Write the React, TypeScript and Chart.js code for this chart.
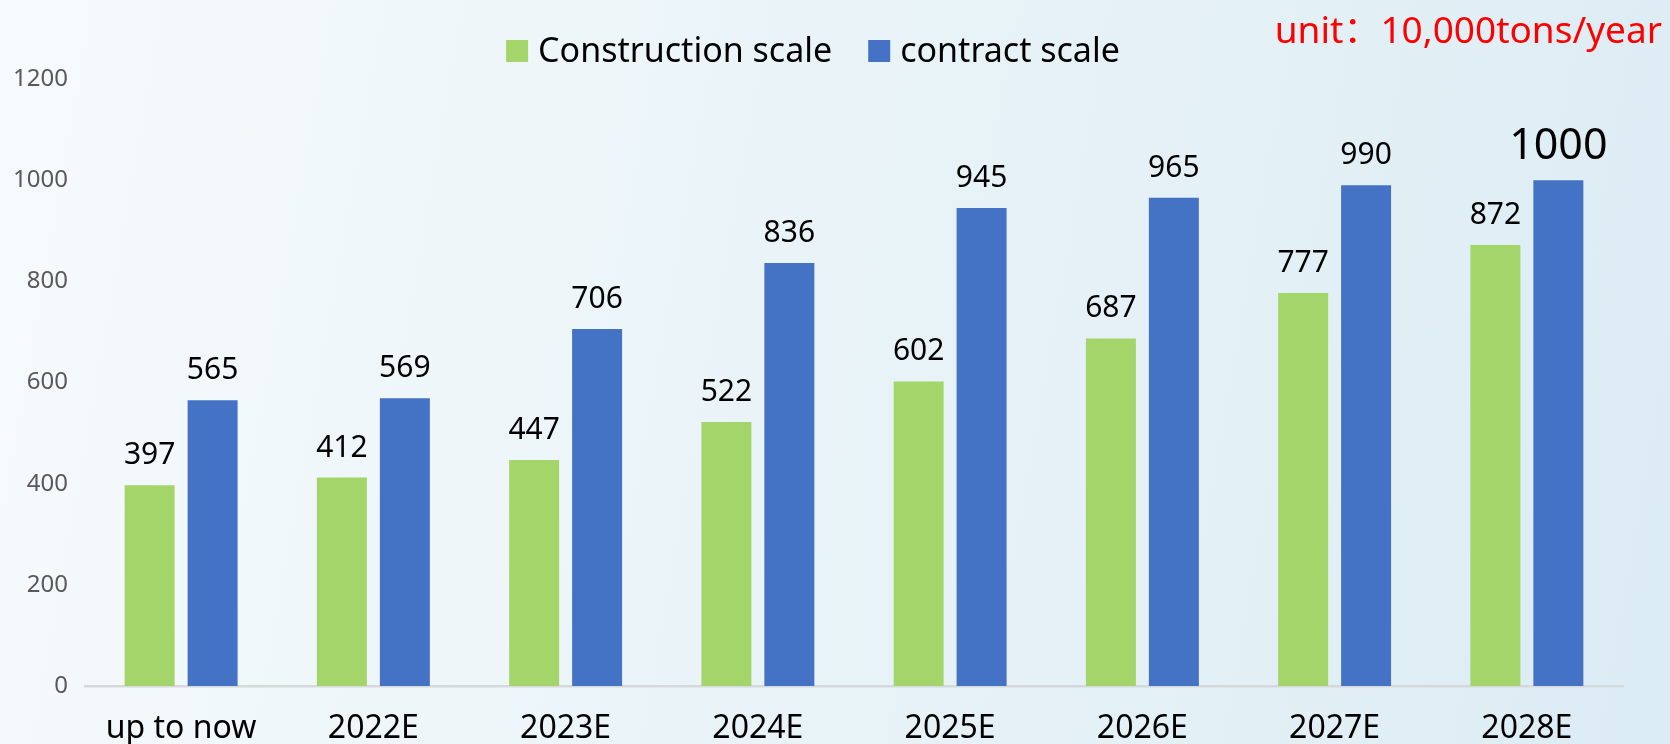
import React, { useEffect, useRef } from "react";
import { Chart, registerables } from "chart.js";

Chart.register(...registerables);

const categories = ["up to now", "2022E", "2023E", "2024E", "2025E", "2026E", "2027E", "2028E"];
const constructionScale = [397, 412, 447, 522, 602, 687, 777, 872];
const contractScale = [565, 569, 706, 836, 945, 965, 990, 1000];
const seriesNames = ["Construction scale", "contract scale"];
const unitText = "unit：10,000tons/year";
const yMax = 1200;
const yStep = 200;

const FONT = '"Noto Sans", "Noto Sans CJK SC", sans-serif';
const GREEN = "#a3d56a";
const BLUE = "#4472c4";
const emphasized = { dataset: 1, index: 7 };

const overlayPlugin = {
  id: "overlay",
  afterDatasetsDraw(chart: any) {
    const ctx = chart.ctx;
    ctx.save();
    // data labels
    chart.data.datasets.forEach((ds: any, i: number) => {
      const meta = chart.getDatasetMeta(i);
      meta.data.forEach((bar: any, j: number) => {
        const big = i === emphasized.dataset && j === emphasized.index;
        ctx.font = `${big ? 43 : 30}px ${FONT}`;
        ctx.fillStyle = "#000";
        ctx.textAlign = "center";
        ctx.textBaseline = "alphabetic";
        ctx.fillText(String(ds.data[j]), bar.x, bar.y - 21);
      });
    });
    // legend
    const legendFont = `34px ${FONT}`;
    ctx.font = legendFont;
    const box = 22;
    const boxGap = 10;
    const itemGap = 36;
    const widths = chart.data.datasets.map((ds: any) => box + boxGap + ctx.measureText(ds.label).width);
    const total = widths.reduce((a: number, b: number) => a + b, 0) + itemGap * (widths.length - 1);
    let x = 813 - total / 2;
    const cy = 51;
    chart.data.datasets.forEach((ds: any, i: number) => {
      ctx.fillStyle = ds.backgroundColor;
      ctx.fillRect(x, cy - box / 2, box, box);
      ctx.fillStyle = "#000";
      ctx.textAlign = "left";
      ctx.textBaseline = "middle";
      ctx.fillText(ds.label, x + box + boxGap, cy + 1);
      x += widths[i] + itemGap;
    });
    // unit text
    ctx.font = `37px ${FONT}`;
    ctx.fillStyle = "#ff0000";
    ctx.textAlign = "right";
    ctx.textBaseline = "middle";
    ctx.fillText(unitText, 1662, 32);
    ctx.restore();
  },
};

export default function App() {
  const canvasRef = useRef<HTMLCanvasElement | null>(null);

  useEffect(() => {
    const canvas = canvasRef.current;
    if (!canvas) return;
    const chart = new Chart(canvas, {
      type: "bar",
      data: {
        labels: categories,
        datasets: [
          { label: seriesNames[0], data: constructionScale, backgroundColor: GREEN, categoryPercentage: 0.655, barPercentage: 0.794 },
          { label: seriesNames[1], data: contractScale, backgroundColor: BLUE, categoryPercentage: 0.655, barPercentage: 0.794 },
        ],
      },
      options: {
        responsive: false,
        animation: false,
        devicePixelRatio: 1,
        layout: { padding: { top: 79, right: 47, left: 0, bottom: 0 } },
        plugins: {
          legend: { display: false },
          tooltip: { enabled: false },
        },
        scales: {
          x: {
            grid: { display: false, drawTicks: false },
            border: { display: true, color: "#d6d9db", width: 2.5 },
            ticks: {
              color: "#000",
              font: { family: FONT, size: 32, lineHeight: 1 },
              padding: 27,
              maxRotation: 0,
              autoSkip: false,
            },
            afterFit(scale: any) {
              scale.height = 58;
            },
          },
          y: {
            min: 0,
            max: yMax,
            grid: { display: false, drawTicks: false },
            border: { display: false },
            ticks: {
              stepSize: yStep,
              color: "#595959",
              font: { family: FONT, size: 24 },
              padding: 17,
              callback: (value: any) => String(value),
            },
            afterFit(scale: any) {
              scale.width = 85;
            },
          },
        },
      },
      plugins: [overlayPlugin],
    });
    return () => chart.destroy();
  }, []);

  return (
    <div
      style={{
        position: "fixed",
        left: 0,
        top: 0,
        width: 1670,
        height: 744,
        overflow: "hidden",
        background: "linear-gradient(100deg, #f6fafc 0%, #eaf4f8 45%, #dcecf4 100%)",
      }}
    >
      <canvas ref={canvasRef} width={1670} height={744} style={{ display: "block", width: 1670, height: 744 }} />
    </div>
  );
}
